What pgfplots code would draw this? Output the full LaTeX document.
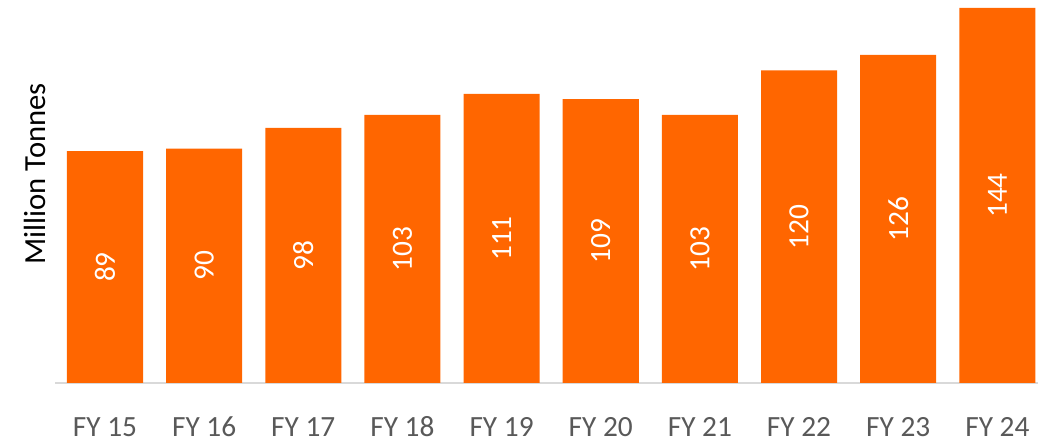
\documentclass[border=0pt]{standalone}
\usepackage{fontspec}
\setmainfont{Carlito}
\usepackage{pgfplots}
\pgfplotsset{compat=1.18}
\definecolor{barorange}{HTML}{FF6600}
\definecolor{ticktext}{HTML}{595959}
\definecolor{axisgray}{HTML}{D9D9D9}

\begin{document}
\fontsize{22}{26}\selectfont
\begin{tikzpicture}
\path[use as bounding box] (-41.25pt,-44.25pt) rectangle (737.25pt,287.25pt);
\begin{axis}[
    at={(0,0)}, anchor=south west,
    scale only axis,
    width=737.25pt, height=287.25pt,
    xmin=-0.504, xmax=9.41,
    ymin=0, ymax=147.07,
    axis y line=none,
    axis x line*=bottom,
    x axis line style={draw=axisgray, line width=1.5pt, -},
    xtick={0,1,2,3,4,5,6,7,8,9},
    xticklabels={FY 15,FY 16,FY 17,FY 18,FY 19,FY 20,FY 21,FY 22,FY 23,FY 24},
    major tick length=0pt,
    xticklabel style={text=ticktext, font=\fontsize{22}{26}\selectfont,
        anchor=base, yshift=-39.75pt},
    /pgf/number format/assume math mode=true,
    clip=false,
]
% bars
\addplot[ybar, bar width=0.767, fill=barorange, draw=none]
coordinates {
    (0,89) (1,90) (2,98) (3,103) (4,111)
    (5,109) (6,103) (7,120) (8,126) (9,144)
};
% value labels, set at half the bar height
\addplot[draw=none, mark=none, point meta=explicit,
    nodes near coords,
    every node near coord/.append style={rotate=90, anchor=center, text=white,
        font=\fontsize{22}{26}\selectfont}]
coordinates {
    (0,44.5) [89] (1,45) [90] (2,49) [98] (3,51.5) [103] (4,55.5) [111]
    (5,54.5) [109] (6,51.5) [103] (7,60) [120] (8,63) [126] (9,72) [144]
};
% with rotate=90 a yshift moves the label to the left
\node[rotate=90, anchor=base, yshift=7pt, font=\fontsize{23}{27}\selectfont]
    at (axis description cs:0,0.546) {Million Tonnes};
\end{axis}
\end{tikzpicture}
\end{document}
